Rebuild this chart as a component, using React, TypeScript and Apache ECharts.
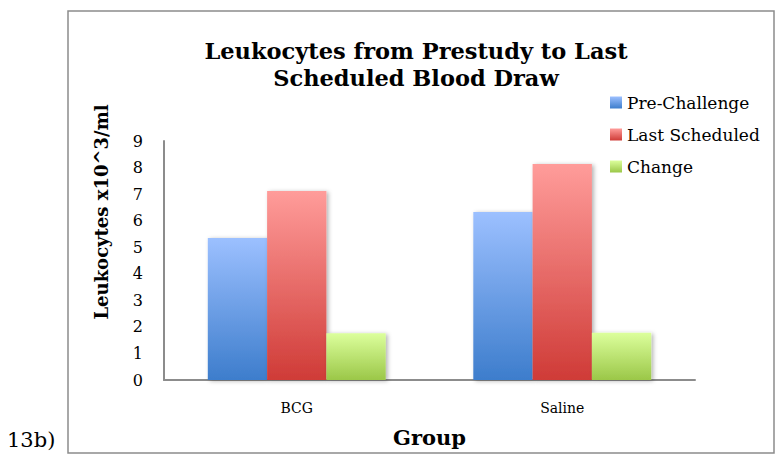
import React, { useEffect, useRef } from "react";
import * as echarts from "echarts";

const categories = ["BCG", "Saline"];
const seriesNames = ["Pre-Challenge", "Last Scheduled", "Change"];
const preChallenge = [5.35, 6.33];
const lastScheduled = [7.12, 8.13];
const change = [1.76, 1.78];
const yTicks = [0, 9, 1];

const gradients = [
  ["#9CC0FF", "#3D7DCC"],
  ["#FF9C9A", "#CF3B37"],
  ["#DCFF9C", "#9BC748"],
];

export default function App() {
  const ref = useRef<HTMLDivElement>(null);
  useEffect(() => {
    if (!ref.current) return;
    const chart = echarts.init(ref.current, null, { renderer: "svg" });
    const serif = "DejaVu Serif";
    const grad = (i: number) =>
      new echarts.graphic.LinearGradient(0, 0, 0, 1, [
        { offset: 0, color: gradients[i][0] },
        { offset: 1, color: gradients[i][1] },
      ]);
    const data = [preChallenge, lastScheduled, change];
    chart.setOption({
      animation: false,
      backgroundColor: "#ffffff",
      textStyle: { fontFamily: serif },
      title: {
        text: "Leukocytes from Prestudy to Last\nScheduled Blood Draw",
        left: 416,
        textAlign: "center",
        top: 37,
        padding: 0,
        textStyle: {
          fontFamily: serif,
          fontWeight: "bold",
          fontSize: 22.5,
          lineHeight: 27,
          color: "#000",
        },
      },
      legend: {
        orient: "vertical",
        left: 610,
        top: 94,
        padding: 0,
        itemWidth: 12,
        itemHeight: 12,
        itemGap: 15,
        icon: "rect",
        data: seriesNames,
        textStyle: { fontFamily: serif, fontSize: 17, color: "#000" },
      },
      grid: { left: 164, right: 80, top: 141, bottom: 82 },
      xAxis: {
        type: "category",
        data: categories,
        name: "Group",
        nameLocation: "middle",
        nameGap: 47,
        nameTextStyle: { fontFamily: serif, fontWeight: "bold", fontSize: 21, color: "#000" },
        axisLine: { lineStyle: { color: "#8c8c8c", width: 2 } },
        axisTick: { show: false },
        axisLabel: { fontFamily: serif, fontSize: 14, color: "#000", margin: 21 },
      },
      yAxis: {
        type: "value",
        min: yTicks[0],
        max: yTicks[1],
        interval: yTicks[2],
        axisLine: { show: true, lineStyle: { color: "#8c8c8c", width: 2 } },
        axisTick: { show: false },
        splitLine: { show: false },
        axisLabel: { fontFamily: serif, fontSize: 16, color: "#000", margin: 21 },
      },
      graphic: [
        {
          type: "rect",
          shape: { x: 68, y: 11, width: 706, height: 442 },
          style: { fill: "none", stroke: "#8c8c8c", lineWidth: 1.5 },
          z: -1,
        },
        {
          type: "text",
          x: 101,
          y: 212,
          rotation: Math.PI / 2,
          style: {
            text: "Leukocytes x10^3/ml",
            fontFamily: serif,
            fontWeight: "bold",
            fontSize: 18,
            fill: "#000",
            align: "center",
            verticalAlign: "middle",
          },
        },
        {
          type: "text",
          x: 7,
          y: 440,
          style: {
            text: "13b)",
            fontFamily: serif,
            fontSize: 21,
            fill: "#000",
            verticalAlign: "middle",
          },
        },
      ],
      series: seriesNames.map((name, i) => ({
        name,
        type: "bar",
        data: data[i],
        barGap: "0%",
        barCategoryGap: "33%",
        itemStyle: {
          color: grad(i),
          shadowBlur: 4,
          shadowColor: "rgba(0,0,0,0.3)",
          shadowOffsetX: 2,
          shadowOffsetY: 1,
        },
      })),
    });
    return () => chart.dispose();
  }, []);
  return (
    <div
      ref={ref}
      style={{ position: "fixed", left: 0, top: 0, width: 775, height: 462 }}
    />
  );
}
